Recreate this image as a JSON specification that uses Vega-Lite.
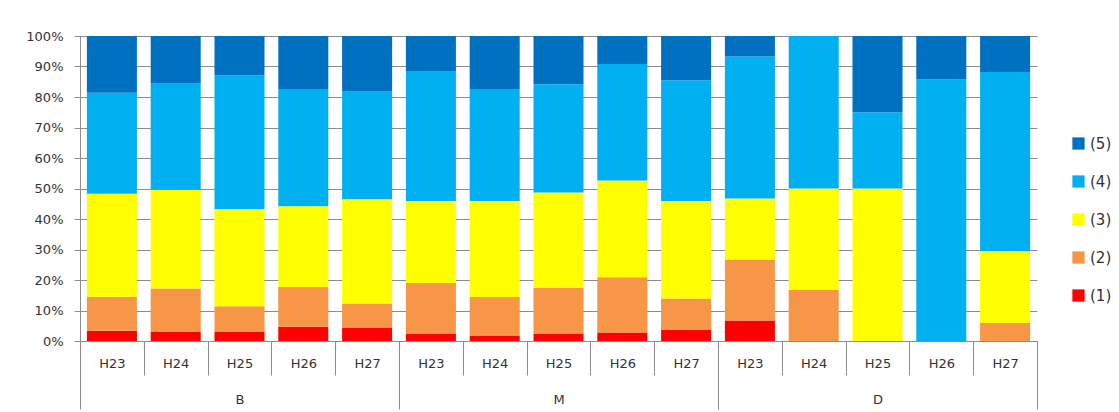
{
  "$schema": "https://vega.github.io/schema/vega-lite/v6.json",
  "autosize": {"type": "none"},
  "padding": {"left": 80, "top": 36, "right": 82, "bottom": 71},
  "width": 957,
  "height": 305,
  "config": {
    "view": {"stroke": null},
    "axis": {"labelFont": "DejaVu Sans", "labelColor": "#333333", "titleFont": "DejaVu Sans"},
    "legend": {"labelFont": "DejaVu Sans"}
  },
  "data": {
    "values": [
      {"grp": "B", "key": "B-H23", "cat": "(1)", "o": 1, "val": 3.4},
      {"grp": "B", "key": "B-H23", "cat": "(2)", "o": 2, "val": 11.1},
      {"grp": "B", "key": "B-H23", "cat": "(3)", "o": 3, "val": 33.8},
      {"grp": "B", "key": "B-H23", "cat": "(4)", "o": 4, "val": 33.1},
      {"grp": "B", "key": "B-H23", "cat": "(5)", "o": 5, "val": 18.6},
      {"grp": "B", "key": "B-H24", "cat": "(1)", "o": 1, "val": 3.1},
      {"grp": "B", "key": "B-H24", "cat": "(2)", "o": 2, "val": 14.1},
      {"grp": "B", "key": "B-H24", "cat": "(3)", "o": 3, "val": 32.4},
      {"grp": "B", "key": "B-H24", "cat": "(4)", "o": 4, "val": 35.0},
      {"grp": "B", "key": "B-H24", "cat": "(5)", "o": 5, "val": 15.4},
      {"grp": "B", "key": "B-H25", "cat": "(1)", "o": 1, "val": 3.1},
      {"grp": "B", "key": "B-H25", "cat": "(2)", "o": 2, "val": 8.3},
      {"grp": "B", "key": "B-H25", "cat": "(3)", "o": 3, "val": 31.8},
      {"grp": "B", "key": "B-H25", "cat": "(4)", "o": 4, "val": 43.9},
      {"grp": "B", "key": "B-H25", "cat": "(5)", "o": 5, "val": 12.9},
      {"grp": "B", "key": "B-H26", "cat": "(1)", "o": 1, "val": 4.7},
      {"grp": "B", "key": "B-H26", "cat": "(2)", "o": 2, "val": 13.0},
      {"grp": "B", "key": "B-H26", "cat": "(3)", "o": 3, "val": 26.5},
      {"grp": "B", "key": "B-H26", "cat": "(4)", "o": 4, "val": 38.4},
      {"grp": "B", "key": "B-H26", "cat": "(5)", "o": 5, "val": 17.4},
      {"grp": "B", "key": "B-H27", "cat": "(1)", "o": 1, "val": 4.4},
      {"grp": "B", "key": "B-H27", "cat": "(2)", "o": 2, "val": 7.9},
      {"grp": "B", "key": "B-H27", "cat": "(3)", "o": 3, "val": 34.2},
      {"grp": "B", "key": "B-H27", "cat": "(4)", "o": 4, "val": 35.5},
      {"grp": "B", "key": "B-H27", "cat": "(5)", "o": 5, "val": 18.0},
      {"grp": "M", "key": "M-H23", "cat": "(1)", "o": 1, "val": 2.5},
      {"grp": "M", "key": "M-H23", "cat": "(2)", "o": 2, "val": 16.5},
      {"grp": "M", "key": "M-H23", "cat": "(3)", "o": 3, "val": 26.9},
      {"grp": "M", "key": "M-H23", "cat": "(4)", "o": 4, "val": 42.6},
      {"grp": "M", "key": "M-H23", "cat": "(5)", "o": 5, "val": 11.5},
      {"grp": "M", "key": "M-H24", "cat": "(1)", "o": 1, "val": 1.6},
      {"grp": "M", "key": "M-H24", "cat": "(2)", "o": 2, "val": 12.8},
      {"grp": "M", "key": "M-H24", "cat": "(3)", "o": 3, "val": 31.5},
      {"grp": "M", "key": "M-H24", "cat": "(4)", "o": 4, "val": 36.7},
      {"grp": "M", "key": "M-H24", "cat": "(5)", "o": 5, "val": 17.4},
      {"grp": "M", "key": "M-H25", "cat": "(1)", "o": 1, "val": 2.5},
      {"grp": "M", "key": "M-H25", "cat": "(2)", "o": 2, "val": 15.0},
      {"grp": "M", "key": "M-H25", "cat": "(3)", "o": 3, "val": 31.2},
      {"grp": "M", "key": "M-H25", "cat": "(4)", "o": 4, "val": 35.5},
      {"grp": "M", "key": "M-H25", "cat": "(5)", "o": 5, "val": 15.8},
      {"grp": "M", "key": "M-H26", "cat": "(1)", "o": 1, "val": 2.8},
      {"grp": "M", "key": "M-H26", "cat": "(2)", "o": 2, "val": 18.1},
      {"grp": "M", "key": "M-H26", "cat": "(3)", "o": 3, "val": 31.7},
      {"grp": "M", "key": "M-H26", "cat": "(4)", "o": 4, "val": 38.2},
      {"grp": "M", "key": "M-H26", "cat": "(5)", "o": 5, "val": 9.2},
      {"grp": "M", "key": "M-H27", "cat": "(1)", "o": 1, "val": 3.7},
      {"grp": "M", "key": "M-H27", "cat": "(2)", "o": 2, "val": 10.2},
      {"grp": "M", "key": "M-H27", "cat": "(3)", "o": 3, "val": 32.0},
      {"grp": "M", "key": "M-H27", "cat": "(4)", "o": 4, "val": 39.6},
      {"grp": "M", "key": "M-H27", "cat": "(5)", "o": 5, "val": 14.5},
      {"grp": "D", "key": "D-H23", "cat": "(1)", "o": 1, "val": 6.7},
      {"grp": "D", "key": "D-H23", "cat": "(2)", "o": 2, "val": 20.0},
      {"grp": "D", "key": "D-H23", "cat": "(3)", "o": 3, "val": 20.0},
      {"grp": "D", "key": "D-H23", "cat": "(4)", "o": 4, "val": 46.6},
      {"grp": "D", "key": "D-H23", "cat": "(5)", "o": 5, "val": 6.7},
      {"grp": "D", "key": "D-H24", "cat": "(1)", "o": 1, "val": 0},
      {"grp": "D", "key": "D-H24", "cat": "(2)", "o": 2, "val": 16.7},
      {"grp": "D", "key": "D-H24", "cat": "(3)", "o": 3, "val": 33.3},
      {"grp": "D", "key": "D-H24", "cat": "(4)", "o": 4, "val": 50.0},
      {"grp": "D", "key": "D-H24", "cat": "(5)", "o": 5, "val": 0},
      {"grp": "D", "key": "D-H25", "cat": "(1)", "o": 1, "val": 0},
      {"grp": "D", "key": "D-H25", "cat": "(2)", "o": 2, "val": 0},
      {"grp": "D", "key": "D-H25", "cat": "(3)", "o": 3, "val": 50.0},
      {"grp": "D", "key": "D-H25", "cat": "(4)", "o": 4, "val": 25.0},
      {"grp": "D", "key": "D-H25", "cat": "(5)", "o": 5, "val": 25.0},
      {"grp": "D", "key": "D-H26", "cat": "(1)", "o": 1, "val": 0},
      {"grp": "D", "key": "D-H26", "cat": "(2)", "o": 2, "val": 0},
      {"grp": "D", "key": "D-H26", "cat": "(3)", "o": 3, "val": 0},
      {"grp": "D", "key": "D-H26", "cat": "(4)", "o": 4, "val": 85.7},
      {"grp": "D", "key": "D-H26", "cat": "(5)", "o": 5, "val": 14.3},
      {"grp": "D", "key": "D-H27", "cat": "(1)", "o": 1, "val": 0},
      {"grp": "D", "key": "D-H27", "cat": "(2)", "o": 2, "val": 5.9},
      {"grp": "D", "key": "D-H27", "cat": "(3)", "o": 3, "val": 23.5},
      {"grp": "D", "key": "D-H27", "cat": "(4)", "o": 4, "val": 58.8},
      {"grp": "D", "key": "D-H27", "cat": "(5)", "o": 5, "val": 11.8}
    ]
  },
  "layer": [
    {
      "mark": {"type": "bar", "width": {"band": 0.784}},
      "encoding": {
        "x": {
          "field": "key",
          "type": "nominal",
          "sort": null,
          "scale": {"paddingInner": 0, "paddingOuter": 0},
          "axis": {
            "orient": "bottom",
            "title": null,
            "labelExpr": "split(datum.label, '-')[1]",
            "labelAngle": 0,
            "labelFontSize": 13,
            "tickBand": "extent",
            "tickSize": 34,
            "tickColor": "#8c8c8c",
            "domainColor": "#8c8c8c",
            "labelPadding": -18,
            "grid": false
          }
        },
        "y": {
          "field": "val",
          "type": "quantitative",
          "stack": "normalize",
          "scale": {"domain": [0, 1], "nice": false},
          "axis": {
            "title": null,
            "values": [0, 0.1, 0.2, 0.3, 0.4, 0.5, 0.6, 0.7, 0.8, 0.9, 1],
            "format": ".0%",
            "labelFontSize": 13,
            "labelPadding": 11,
            "tickSize": 6,
            "tickColor": "#8c8c8c",
            "domainColor": "#8c8c8c",
            "grid": true,
            "gridColor": "#8c8c8c",
            "gridOpacity": 1
          }
        },
        "color": {
          "field": "cat",
          "type": "nominal",
          "scale": {
            "domain": ["(5)", "(4)", "(3)", "(2)", "(1)"],
            "range": ["#0070C0", "#00B0F0", "#FFFF00", "#F79646", "#FF0000"]
          },
          "legend": {
            "title": null,
            "orient": "none",
            "legendX": 991,
            "legendY": 100,
            "padding": 0,
            "symbolType": "square",
            "symbolSize": 150,
            "symbolStrokeWidth": 0,
            "labelFontSize": 15,
            "labelColor": "#333333",
            "labelOffset": 4,
            "rowPadding": 22
          }
        },
        "order": {"field": "o", "type": "quantitative", "sort": "ascending"}
      }
    },
    {
      "mark": {"type": "point", "opacity": 0},
      "encoding": {
        "x": {
          "field": "grp",
          "type": "nominal",
          "sort": null,
          "scale": {"paddingInner": 0, "paddingOuter": 0},
          "axis": {
            "orient": "bottom",
            "title": null,
            "labelAngle": 0,
            "labelFontSize": 13,
            "tickBand": "extent",
            "tickSize": 68,
            "tickColor": "#8c8c8c",
            "domain": false,
            "labelPadding": -16,
            "grid": false
          }
        }
      }
    }
  ],
  "resolve": {"scale": {"x": "independent"}}
}
